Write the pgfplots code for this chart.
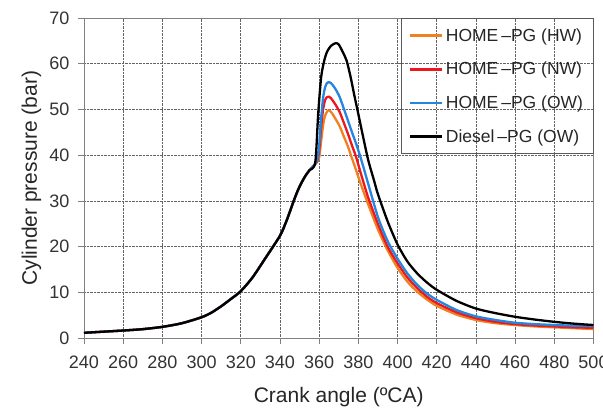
\documentclass[border=0pt]{standalone}
\usepackage{pgfplots}
\pgfplotsset{compat=1.18}
\usepackage{fontspec}
\setmainfont{Liberation Sans}
\definecolor{corange}{RGB}{240,128,32}
\definecolor{cred}{RGB}{236,24,30}
\definecolor{cblue}{RGB}{36,134,222}
\definecolor{cgrid}{RGB}{100,100,100}
\begin{document}
\begin{tikzpicture}
\begin{axis}[
  scale only axis, width=509.5pt, height=320.3pt,
  xmin=240, xmax=500, ymin=0, ymax=70,
  xtick={240,260,...,500}, ytick={0,10,...,70},
  grid=major, grid style={densely dotted, cgrid, line width=0.6pt},
  axis line style={gray, line width=0.8pt},
  tick align=outside, major tick length=6pt, tick style={gray, line width=0.8pt},
  xtick pos=lower, ytick pos=left,
  ticklabel style={font=\fontsize{18}{20}\selectfont, text=black!80},
  xticklabel style={yshift=-8pt},
  yticklabel style={xshift=-5pt},
  /pgf/number format/assume math mode=true,
  xlabel={Crank angle (ºCA)}, ylabel={Cylinder pressure (bar)},
  label style={font=\fontsize{21}{24}\selectfont, text=black!85},
  xlabel style={at={(axis description cs:0.5,-0.143)}, anchor=north},
  ylabel style={at={(axis description cs:-0.077,0.5)}, anchor=south},
  legend cell align=left,
  legend style={at={(rel axis cs:1,1)}, anchor=north east,
    draw=gray!70!black, line width=1pt, fill=none,
    font=\fontsize{17.5}{19}\selectfont, text=black!85, row sep=15.5pt,
    inner xsep=8pt, inner ysep=8pt},
  legend image code/.code={\draw[#1, line width=2.9pt] (0pt,0pt) -- (32pt,0pt);},
  every axis plot/.append style={line width=2.3pt, line join=round, smooth, tension=0.45},
]
\addplot[corange] coordinates {
(240,1.2)(250,1.45)(260,1.7)(270,2.0)(280,2.5)(290,3.3)(300,4.6)(305,5.6)(310,7.0)(315,8.6)(320,10.3)(326,13.3)(333,17.8)(340,22.4)(343,25.3)(345,27.6)(347,30.0)(349,32.2)(351,34.0)(353,35.5)(355,36.7)(358,38.1)
(359,38.5)(360,39.5)(361,43)(362,46.5)(363,48.6)(364.5,49.8)(366,49.5)(368,48.2)(370.4,46.4)(372.5,44.2)(374.6,42)(376.7,39.4)(378.8,36.8)(381,34)(385,29.3)(390,23.8)(395,19.2)(400,15.4)(405,12.4)(410,10.2)(415,8.5)(420,7.1)(430,5.2)(440,4.0)(450,3.3)(460,2.9)(470,2.6)(480,2.4)(490,2.2)(500,2.0)};
\addlegendentry{HOME\,--PG (HW)}
\addplot[cred] coordinates {
(240,1.2)(250,1.45)(260,1.7)(270,2.0)(280,2.5)(290,3.3)(300,4.6)(305,5.6)(310,7.0)(315,8.6)(320,10.3)(326,13.3)(333,17.8)(340,22.4)(343,25.3)(345,27.6)(347,30.0)(349,32.2)(351,34.0)(353,35.5)(355,36.7)(358,38.1)
(359,38.7)(360,41)(361,46)(362,50)(363,52)(364,52.7)(365,52.8)(366,52.5)(368,51.3)(370.4,49.5)(372.5,47.2)(374.6,44.8)(376.7,42.2)(378.8,39.7)(381.3,36)(385,30.8)(390,25)(395,20)(400,16.4)(405,13.3)(410,11)(415,9.1)(420,7.7)(430,5.7)(440,4.4)(450,3.6)(460,3.1)(470,2.8)(480,2.6)(490,2.4)(500,2.3)};
\addlegendentry{HOME\,--PG (NW)}
\addplot[cblue] coordinates {
(240,1.2)(250,1.45)(260,1.7)(270,2.0)(280,2.5)(290,3.3)(300,4.6)(305,5.6)(310,7.0)(315,8.6)(320,10.3)(326,13.3)(333,17.8)(340,22.4)(343,25.3)(345,27.6)(347,30.0)(349,32.2)(351,34.0)(353,35.5)(355,36.7)(358,38.1)
(359,38.9)(360,42)(361,48)(362,52.5)(363,54.8)(364,55.8)(365,56.0)(366,55.8)(368,54.7)(370.4,52.8)(372.5,50.3)(374.6,47.7)(376.7,45.1)(378.8,42.6)(381,39.7)(383,36.8)(385,33.8)(390,26.5)(395,21.2)(400,17.4)(405,14.2)(410,11.7)(415,9.8)(420,8.4)(430,6.2)(440,4.8)(450,4.0)(460,3.4)(470,3.1)(480,2.9)(490,2.75)(500,2.65)};
\addlegendentry{HOME\,--PG (OW)}
\addplot[black] coordinates {
(240,1.2)(250,1.45)(260,1.7)(270,2.0)(280,2.5)(290,3.3)(300,4.6)(305,5.6)(310,7.0)(315,8.6)(320,10.3)(326,13.3)(333,17.8)(340,22.4)(343,25.3)(345,27.6)(347,30.0)(349,32.2)(351,34.0)(353,35.5)(355,36.7)(358,38.4)
(359.5,49)(361,57)(362.5,60.5)(364,62.6)(366,63.9)(368.4,64.5)(370,64.2)(372,62.6)(374,60.7)(376,57.2)(378,53)(380,49)(382,44.9)(385,39)(388,34.5)(390,31.5)(395,25.5)(400,20.5)(405,16.8)(410,14.2)(415,12.2)(420,10.6)(430,8.2)(440,6.5)(450,5.5)(460,4.7)(470,4.1)(480,3.6)(490,3.2)(500,2.9)};
\addlegendentry{Diesel\,--PG (OW)}
\end{axis}
\path (current axis.south west) ++(-84pt,-73.7pt) coordinate (BBa);
\path (current axis.north east) ++(9.5pt,18pt) coordinate (BBb);
\pgfresetboundingbox
\path[use as bounding box] (BBa) rectangle (BBb);
\end{tikzpicture}
\end{document}
